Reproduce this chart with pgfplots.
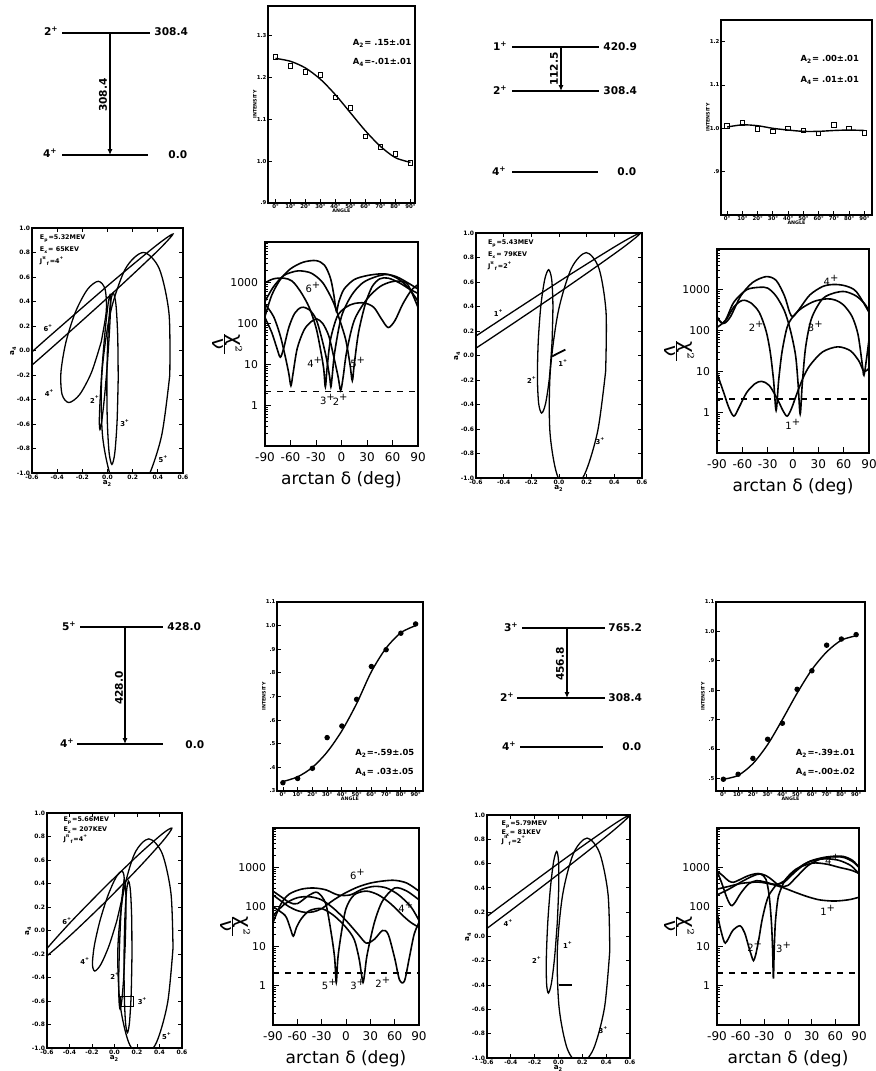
\documentclass[border=0pt]{standalone}
\usepackage{fontspec}
\setmainfont{DejaVu Sans}
\usepackage{pgfplots}
\pgfplotsset{compat=1.18}
\usetikzlibrary{arrows.meta}

\newcommand{\fs}[1]{\fontsize{#1}{#1}\selectfont}
\newcommand{\p}{\textsuperscript{+}}

\tikzset{
  lvl/.style={font=\fs{5.3}\bfseries, inner sep=0.5pt},
  elab/.style={font=\fs{3.4}\bfseries, inner sep=0.3pt},
  clab/.style={font=\fs{5}, inner sep=0.3pt},
  atxt/.style={anchor=west, font=\fs{4.2}\bfseries, inner sep=0.3pt},
  info/.style={anchor=north west, align=left, inner sep=0pt},
}

\pgfplotsset{
  base/.style={scale only axis, anchor=south west, axis line style={line width=0.7pt},
    /pgf/number format/assume math mode=true, tick style={line width=0.4pt, black}},
  intens/.style={base, xtick={0,10,...,90},
    xticklabels={0°,10°,20°,30°,40°,50°,60°,70°,80°,90°},
    tick pos=left, tick align=inside, major tick length=1.8pt,
    ticklabel style={font=\fs{2.7}\bfseries, inner sep=0.6pt},
    xlabel={ANGLE}, ylabel={INTENSITY}, label style={font=\fs{2.4}\bfseries},
    xlabel style={yshift=4pt}, ylabel style={yshift=-4pt}},
  ell/.style={base, xmin=-0.6, xmax=0.6, ymin=-1, ymax=1,
    xtick={-0.6,-0.4,-0.2,0,0.2,0.4,0.6},
    ytick={-1,-0.8,-0.6,-0.4,-0.2,0,0.2,0.4,0.6,0.8,1},
    tick align=inside, tick pos=both, major tick length=1.8pt,
    ticklabel style={font=\fs{3}\bfseries, inner sep=0.8pt},
    xticklabel style={/pgf/number format/fixed, /pgf/number format/fixed zerofill, /pgf/number format/precision=1},
    yticklabel style={/pgf/number format/fixed, /pgf/number format/fixed zerofill, /pgf/number format/precision=1},
    xlabel={a\textsubscript{2}}, ylabel={a\textsubscript{4}}, label style={font=\fs{3.6}\bfseries},
    xlabel style={yshift=4pt}, ylabel style={yshift=-4pt}},
  chisq/.style={base, xmin=-90, xmax=90, ymin=0.1, ymax=10000,
    xtick={-90,-60,-30,0,30,60,90}, ytick={1,10,100,1000}, yticklabels={1,10,100,1000},
    minor ytick={0.2,0.3,0.4,0.5,0.6,0.7,0.8,0.9,2,3,4,5,6,7,8,9,20,30,40,50,60,70,80,90,200,300,400,500,600,700,800,900,2000,3000,4000,5000,6000,7000,8000,9000},
    tick pos=left, tick align=inside, major tick length=3pt, minor tick length=1.6pt,
    yticklabel style={font=\fs{5.4}}, xticklabel style={font=\fs{6}},
    xlabel={arctan δ (deg)}, ylabel={$\frac{\mbox{χ}^2}{\mbox{ν}}$},
    label style={font=\fs{8.5}},
    every axis y label/.style={at={([xshift=-19pt]rel axis cs:0,0.5)}, rotate=-90, anchor=center},
    xlabel style={yshift=2pt}},
  cv/.style={smooth, line width=0.8pt},
  el/.style={smooth, line width=0.65pt},
  fit/.style={smooth, line width=0.7pt},
  pts/.style={only marks, mark=square, mark size=1.1pt, mark options={line width=0.5pt}},
}

\begin{document}
\begin{tikzpicture}
\useasboundingbox (0,0) rectangle (438pt,535.5pt);

% ---------- level schemes on a hidden canvas (pixel coordinates)
\begin{axis}[scale only axis, anchor=south west, at={(0,0)}, width=438pt, height=535.5pt,
  xmin=0, xmax=876, ymin=0, ymax=1071, y dir=reverse, hide axis, clip=false]
% top left
\addplot[line width=0.8pt] coordinates {(62,33)(150,33)};
\addplot[line width=0.8pt] coordinates {(62,155)(148,155)};
\addplot[line width=0.6pt, -{Latex[length=3pt,width=2.6pt]}] coordinates {(110,33)(110,155)};
\node[lvl, anchor=east] at (axis cs:60,31) {2\p};
\node[lvl, anchor=west] at (axis cs:153,32) {308.4};
\node[lvl, anchor=east] at (axis cs:59,153) {4\p};
\node[lvl, anchor=west] at (axis cs:167,155) {0.0};
\node[lvl, rotate=90] at (axis cs:103,95) {308.4};
% top middle
\addplot[line width=0.8pt] coordinates {(512,47)(599,47)};
\addplot[line width=0.8pt] coordinates {(512,91)(599,91)};
\addplot[line width=0.8pt] coordinates {(512,172)(598,172)};
\addplot[line width=0.6pt, -{Latex[length=3pt,width=2.6pt]}] coordinates {(561,47)(561,91)};
\node[lvl, anchor=east] at (axis cs:509,46) {1\p};
\node[lvl, anchor=west] at (axis cs:602,47) {420.9};
\node[lvl, anchor=east] at (axis cs:509,90) {2\p};
\node[lvl, anchor=west] at (axis cs:602,91) {308.4};
\node[lvl, anchor=east] at (axis cs:508,171) {4\p};
\node[lvl, anchor=west] at (axis cs:616,172) {0.0};
\node[lvl, rotate=90] at (axis cs:554,69) {112.5};
% bottom left
\addplot[line width=0.8pt] coordinates {(80,627)(163,627)};
\addplot[line width=0.8pt] coordinates {(77,744)(163,744)};
\addplot[line width=0.6pt, -{Latex[length=3pt,width=2.6pt]}] coordinates {(125,627)(125,744)};
\node[lvl, anchor=east] at (axis cs:78,626) {5\p};
\node[lvl, anchor=west] at (axis cs:166,627) {428.0};
\node[lvl, anchor=east] at (axis cs:76,743) {4\p};
\node[lvl, anchor=west] at (axis cs:184,745) {0.0};
\node[lvl, rotate=90] at (axis cs:119,688) {428.0};
% bottom middle
\addplot[line width=0.8pt] coordinates {(522,628)(605,628)};
\addplot[line width=0.8pt] coordinates {(517,698)(605,698)};
\addplot[line width=0.8pt] coordinates {(520,747)(603,747)};
\addplot[line width=0.6pt, -{Latex[length=3pt,width=2.6pt]}] coordinates {(567,628)(567,698)};
\node[lvl, anchor=east] at (axis cs:520,627) {3\p};
\node[lvl, anchor=west] at (axis cs:607,628) {765.2};
\node[lvl, anchor=east] at (axis cs:516,697) {2\p};
\node[lvl, anchor=west] at (axis cs:607,698) {308.4};
\node[lvl, anchor=east] at (axis cs:518,746) {4\p};
\node[lvl, anchor=west] at (axis cs:621,747) {0.0};
\node[lvl, rotate=90] at (axis cs:560,664) {456.8};
\end{axis}

% ---------- angular distributions
\begin{axis}[intens, at={(134pt,434pt)}, width=73.5pt, height=98.5pt,
  xmin=-5, xmax=93, ymin=0.9, ymax=1.37,
  ytick={0.9,1.0,1.1,1.2,1.3}, yticklabels={.9,1.0,1.1,1.2,1.3}]
\addplot[pts] coordinates {(0,1.248)(10,1.227)(20,1.2125)(30,1.205)(40,1.151)(50,1.127)(60,1.059)(70,1.034)(80,1.017)(90,0.995)};
\addplot[fit] coordinates {(0,1.245)(10,1.238)(20,1.222)(30,1.195)(40,1.158)(50,1.115)(60,1.072)(70,1.035)(80,1.008)(90,0.997)};
\node[atxt] at (rel axis cs:0.57,0.81) {A\textsubscript{2}= .15±.01};
\node[atxt] at (rel axis cs:0.57,0.715) {A\textsubscript{4}=-.01±.01};
\end{axis}

\begin{axis}[intens, at={(360.5pt,428pt)}, width=75.5pt, height=97.5pt,
  xmin=-4, xmax=95, ymin=0.8, ymax=1.25,
  ytick={0.9,1.0,1.1,1.2}, yticklabels={.9,1.0,1.1,1.2}]
\addplot[pts] coordinates {(0,1.005)(10,1.012)(20,0.998)(30,0.992)(40,1.0)(50,0.995)(60,0.988)(70,1.008)(80,1.0)(90,0.989)};
\addplot[fit] coordinates {(0,1.003)(10,1.008)(20,1.006)(30,1.0)(40,0.996)(50,0.993)(60,0.993)(70,0.995)(80,0.996)(90,0.995)};
\node[atxt] at (rel axis cs:0.52,0.80) {A\textsubscript{2}= .00±.01};
\node[atxt] at (rel axis cs:0.52,0.69) {A\textsubscript{4}= .01±.01};
\end{axis}

\begin{axis}[intens, at={(138.5pt,140pt)}, width=73pt, height=94.5pt,
  xmin=-4, xmax=95, ymin=0.3, ymax=1.1,
  ytick={0.3,0.4,0.5,0.6,0.7,0.8,0.9,1.0,1.1}, yticklabels={.3,.4,.5,.6,.7,.8,.9,1.0,1.1}]
\addplot[pts, mark=*] coordinates {(0,0.335)(10,0.353)(20,0.396)(30,0.526)(40,0.575)(50,0.688)(60,0.827)(70,0.898)(80,0.968)(90,1.007)};
\addplot[fit] coordinates {(0,0.34)(10,0.36)(20,0.40)(30,0.465)(40,0.555)(50,0.67)(60,0.805)(70,0.905)(80,0.97)(90,1.0)};
\node[atxt] at (rel axis cs:0.53,0.20) {A\textsubscript{2}=-.59±.05};
\node[atxt] at (rel axis cs:0.53,0.10) {A\textsubscript{4}= .03±.05};
\end{axis}

\begin{axis}[intens, at={(358pt,140pt)}, width=74.5pt, height=94.5pt,
  xmin=-5, xmax=96, ymin=0.457, ymax=1.1,
  ytick={0.5,0.6,0.7,0.8,0.9,1.0,1.1}, yticklabels={.5,.6,.7,.8,.9,1.0,1.1}]
\addplot[pts, mark=*] coordinates {(0,0.497)(10,0.514)(20,0.568)(30,0.633)(40,0.6875)(50,0.803)(60,0.866)(70,0.953)(80,0.974)(90,0.989)};
\addplot[fit] coordinates {(0,0.497)(10,0.51)(20,0.55)(30,0.615)(40,0.70)(50,0.79)(60,0.87)(70,0.93)(80,0.97)(90,0.985)};
\node[atxt] at (rel axis cs:0.53,0.20) {A\textsubscript{2}=-.39±.01};
\node[atxt] at (rel axis cs:0.53,0.10) {A\textsubscript{4}=-.00±.02};
\end{axis}

% ---------- a2-a4 ellipses
\begin{axis}[ell, at={(16pt,299pt)}, width=75.5pt, height=122.5pt]
\addplot[el] coordinates {(-0.48,0.099)(-0.98,-0.361)(-1.346,-0.713)(-1.48,-0.862)(-1.346,-0.768)(-0.98,-0.457)(-0.48,-0.011)(0.02,0.449)(0.386,0.801)(0.52,0.95)(0.386,0.856)(0.02,0.545)(-0.48,0.099)};
\addplot[el] coordinates {(-0.05,0.07)(-0.127,-0.178)(-0.221,-0.359)(-0.307,-0.425)(-0.361,-0.359)(-0.370,-0.178)(-0.33,0.07)(-0.253,0.318)(-0.159,0.499)(-0.073,0.565)(-0.019,0.499)(-0.010,0.318)(-0.05,0.07)};
\addplot[el] coordinates {(0.0,-0.095)(-0.023,-0.37)(-0.045,-0.571)(-0.06,-0.645)(-0.065,-0.571)(-0.057,-0.37)(-0.04,-0.095)(-0.017,0.18)(0.005,0.381)(0.02,0.455)(0.025,0.381)(0.017,0.18)(0.0,-0.095)};
\addplot[el] coordinates {(0.085,-0.23)(0.076,-0.58)(0.058,-0.836)(0.035,-0.93)(0.013,-0.836)(-0.0015,-0.58)(-0.005,-0.23)(0.0035,0.12)(0.022,0.376)(0.045,0.47)(0.067,0.376)(0.081,0.12)(0.085,-0.23)};
\addplot[el] coordinates {(0.495,-0.2)(0.429,-0.7)(0.308,-1.066)(0.165,-1.2)(0.038,-1.066)(-0.039,-0.7)(-0.045,-0.2)(0.021,0.3)(0.142,0.666)(0.285,0.8)(0.412,0.666)(0.489,0.3)(0.495,-0.2)};
\node[elab] at (axis cs:-0.47,0.18) {6\p};
\node[elab] at (axis cs:-0.46,-0.35) {4\p};
\node[elab] at (axis cs:-0.1,-0.40) {2\p};
\node[elab] at (axis cs:0.14,-0.59) {3\p};
\node[elab] at (axis cs:0.445,-0.89) {5\p};
\node[info, font=\fontsize{3.2}{6}\selectfont\bfseries] at (rel axis cs:0.05,0.975)
  {E\textsubscript{p}=5.32MEV\\E\textsubscript{x}= 65KEV\\J\textsuperscript{π}\textsubscript{f}=4\p};
\end{axis}

\begin{axis}[ell, at={(238pt,296.5pt)}, width=83pt, height=122.5pt]
\addplot[el] coordinates {(-0.51,0.227)(-1.06,-0.191)(-1.463,-0.511)(-1.61,-0.646)(-1.463,-0.561)(-1.06,-0.278)(-0.51,0.127)(0.04,0.545)(0.443,0.865)(0.59,1.0)(0.443,0.915)(0.04,0.632)(-0.51,0.227)};
\addplot[el] coordinates {(-0.05,0.115)(-0.069,-0.178)(-0.097,-0.392)(-0.125,-0.47)(-0.147,-0.392)(-0.156,-0.178)(-0.15,0.115)(-0.131,0.408)(-0.103,0.622)(-0.075,0.70)(-0.053,0.622)(-0.044,0.408)(-0.05,0.115)};
\addplot[el] coordinates {(0.337,-0.13)(0.28,-0.615)(0.185,-0.97)(0.077,-1.1)(-0.015,-0.97)(-0.066,-0.615)(-0.063,-0.13)(-0.006,0.355)(0.089,0.71)(0.197,0.84)(0.289,0.71)(0.34,0.355)(0.337,-0.13)};
\addplot[line width=0.9pt] coordinates {(-0.05,-0.007)(0.046,0.048)};
\node[elab] at (axis cs:-0.436,0.35) {1\p};
\node[elab] at (axis cs:-0.195,-0.2) {2\p};
\node[elab] at (axis cs:0.03,-0.06) {1\p};
\node[elab] at (axis cs:0.3,-0.70) {3\p};
\node[info, font=\fontsize{3.2}{6}\selectfont\bfseries] at (rel axis cs:0.07,0.975)
  {E\textsubscript{p}=5.43MEV\\E\textsubscript{x}= 79KEV\\J\textsuperscript{π}\textsubscript{f}=2\p};
\end{axis}

\begin{axis}[ell, at={(23.5pt,11.5pt)}, width=67.5pt, height=117.5pt]
\addplot[el] coordinates {(-0.08,0.375)(-0.375,0.086)(-0.591,-0.143)(-0.67,-0.25)(-0.591,-0.208)(-0.375,-0.026)(-0.08,0.245)(0.215,0.534)(0.431,0.763)(0.51,0.87)(0.431,0.827)(0.215,0.646)(-0.08,0.375)};
\addplot[el] coordinates {(0.02,0.08)(-0.05,-0.133)(-0.121,-0.288)(-0.175,-0.345)(-0.196,-0.288)(-0.18,-0.133)(-0.13,0.08)(-0.06,0.293)(0.011,0.448)(0.065,0.505)(0.086,0.448)(0.07,0.293)(0.02,0.08)};
\addplot[el] coordinates {(0.095,-0.12)(0.082,-0.395)(0.065,-0.596)(0.05,-0.67)(0.04,-0.596)(0.038,-0.395)(0.045,-0.12)(0.058,0.155)(0.075,0.356)(0.09,0.43)(0.1,0.356)(0.102,0.155)(0.095,-0.12)};
\addplot[el] coordinates {(0.155,-0.225)(0.148,-0.548)(0.133,-0.784)(0.115,-0.87)(0.098,-0.784)(0.087,-0.548)(0.085,-0.225)(0.092,0.0975)(0.107,0.334)(0.125,0.42)(0.142,0.334)(0.153,0.0975)(0.155,-0.225)};
\addplot[line width=0.6pt] coordinates {(0.052,-0.56)(0.17,-0.56)(0.17,-0.645)(0.052,-0.645)(0.052,-0.56)};
\addplot[el] coordinates {(0.52,-0.15)(0.472,-0.615)(0.372,-0.955)(0.245,-1.08)(0.127,-0.955)(0.048,-0.615)(0.03,-0.15)(0.078,0.315)(0.179,0.655)(0.305,0.78)(0.424,0.655)(0.502,0.315)(0.52,-0.15)};
\node[elab] at (axis cs:-0.42,0.078) {6\p};
\node[elab] at (axis cs:-0.26,-0.26) {4\p};
\node[elab] at (axis cs:0.007,-0.39) {2\p};
\node[elab] at (axis cs:0.25,-0.60) {3\p};
\node[elab] at (axis cs:0.467,-0.90) {5\p};
\node[info, font=\fontsize{3.2}{5}\selectfont\bfseries] at (rel axis cs:0.12,0.985)
  {E\textsubscript{p}=5.66MEV\\E\textsubscript{x}= 207KEV\\J\textsuperscript{π}\textsubscript{f}=4\p};
\end{axis}

\begin{axis}[ell, at={(243.5pt,6.5pt)}, width=71.5pt, height=121.5pt]
\addplot[el] coordinates {(-0.5,0.24)(-1.05,-0.172)(-1.453,-0.487)(-1.6,-0.62)(-1.453,-0.537)(-1.05,-0.258)(-0.5,0.14)(0.05,0.552)(0.453,0.866)(0.6,1.0)(0.453,0.916)(0.05,0.638)(-0.5,0.24)};
\addplot[el] coordinates {(-0.01,0.117)(-0.033,-0.175)(-0.06,-0.388)(-0.085,-0.466)(-0.1,-0.388)(-0.102,-0.175)(-0.09,0.117)(-0.067,0.409)(-0.04,0.622)(-0.015,0.70)(0.0,0.622)(0.002,0.409)(-0.01,0.117)};
\addplot[el] coordinates {(0.43,-0.12)(0.386,-0.585)(0.294,-0.925)(0.18,-1.05)(0.074,-0.925)(0.005,-0.585)(-0.01,-0.12)(0.035,0.345)(0.126,0.685)(0.24,0.81)(0.346,0.685)(0.416,0.345)(0.43,-0.12)};
\addplot[line width=0.9pt] coordinates {(0.0,-0.4)(0.11,-0.4)};
\node[elab] at (axis cs:-0.42,0.11) {4\p};
\node[elab] at (axis cs:-0.18,-0.19) {2\p};
\node[elab] at (axis cs:0.08,-0.07) {1\p};
\node[elab] at (axis cs:0.377,-0.77) {3\p};
\node[info, font=\fontsize{3.2}{4.5}\selectfont\bfseries] at (rel axis cs:0.1,0.98)
  {E\textsubscript{p}=5.79MEV\\E\textsubscript{x}= 81KEV\\J\textsuperscript{π}\textsubscript{f}=2\p};
\end{axis}

% ---------- chi-square versus arctan delta
\begin{axis}[ymode=log, chisq, at={(132.5pt,312.5pt)}, width=76.5pt, height=102pt]
\addplot[cv] coordinates {(-90,150)(-82,500)(-72,1200)(-60,2200)(-45,3200)(-30,3500)(-20,2700)(-13,1300)(-9,500)(-6,200)(-3,350)(3,700)(15,1200)(30,1500)(45,1650)(55,1600)(68,1200)(80,700)(90,350)};
\addplot[cv] coordinates {(-90,1000)(-80,1250)(-68,1300)(-58,1100)(-48,600)(-38,250)(-30,80)(-25,25)(-21,8)(-19,2.8)(-17,8)(-13,40)(-5,150)(5,250)(15,310)(27,320)(38,250)(47,130)(55,80)(63,120)(72,300)(82,650)(90,900)};
\addplot[cv] coordinates {(-90,350)(-80,800)(-68,1500)(-55,1900)(-47,1950)(-35,1700)(-22,1000)(-10,350)(-2,120)(5,40)(10,10)(12.7,4)(15,10)(20,60)(28,300)(36,800)(45,1250)(55,1300)(68,1000)(80,700)(90,550)};
\addplot[cv] coordinates {(-90,140)(-82,60)(-76,25)(-72,15)(-68,25)(-62,80)(-55,180)(-47,250)(-38,220)(-30,130)(-24,50)(-18,15)(-14,5)(-12.5,2.8)(-11,5)(-8,20)(0,150)(12,500)(25,1000)(40,1400)(53,1600)(65,1400)(78,1000)(90,700)};
\addplot[cv] coordinates {(-90,300)(-80,150)(-72,50)(-66,15)(-62,6)(-59.5,3)(-57,6)(-52,25)(-44,70)(-36,110)(-29,130)(-22,100)(-15,50)(-9,15)(-4,5)(-1,2.3)(2,5)(6,20)(15,120)(30,400)(45,800)(58,1050)(68,1100)(78,900)(90,250)};
\addplot[dashed, line width=0.6pt] coordinates {(-90,2.2)(90,2.2)};
\node[clab] at (axis cs:-33,760) {6\p};
\node[clab] at (axis cs:-31,11) {4\p};
\node[clab] at (axis cs:19.6,11) {5\p};
\node[clab] at (axis cs:-16,1.35) {3\p};
\node[clab] at (axis cs:-1,1.35) {2\p};
\end{axis}

\begin{axis}[ymode=log, chisq, at={(358.5pt,309pt)}, width=76pt, height=102pt]
\addplot[cv] coordinates {(-90,9)(-82,3)(-76,1.3)(-70,0.8)(-64,1.3)(-55,3)(-45,5)(-37,5.7)(-28,4.5)(-18,2)(-12,1.1)(-7,0.8)(-2,1.2)(5,3)(12,7)(20,14)(35,30)(53,40)(68,32)(78,18)(84,10)(90,12)};
\addplot[cv] coordinates {(-90,220)(-84,150)(-78,200)(-70,380)(-60,550)(-50,480)(-40,280)(-32,100)(-27,30)(-23,6)(-20,1.1)(-17,6)(-13,30)(-7,120)(0,220)(10,350)(25,520)(40,600)(50,560)(60,420)(70,220)(77,80)(82,15)(84,8)(87,20)(90,60)};
\addplot[cv] coordinates {(-90,120)(-80,180)(-70,500)(-55,1000)(-40,1150)(-30,1100)(-20,700)(-10,300)(-3,100)(3,25)(6,5)(8.5,0.9)(11,5)(15,40)(22,200)(35,600)(50,850)(62,900)(75,700)(85,450)(90,300)};
\addplot[cv] coordinates {(-90,200)(-82,150)(-74,220)(-62,700)(-48,1500)(-32,2100)(-20,1700)(-10,700)(-4,280)(0,220)(8,350)(20,750)(35,1200)(48,1350)(62,1250)(75,900)(90,280)};
\addplot[dashed, line width=0.6pt] coordinates {(-90,2.1)(90,2.1)};
\node[clab] at (axis cs:45.6,1700) {4\p};
\node[clab] at (axis cs:-43,130) {2\p};
\node[clab] at (axis cs:27,125) {3\p};
\node[clab] at (axis cs:0.4,0.5) {1\p};
\end{axis}

\begin{axis}[ymode=log, chisq, at={(136.5pt,23pt)}, width=73pt, height=98.5pt]
\addplot[cv] coordinates {(-90,200)(-80,140)(-70,100)(-60,80)(-50,72)(-40,75)(-30,90)(-15,150)(0,230)(15,320)(30,400)(45,450)(60,470)(75,400)(90,250)};
\addplot[cv] coordinates {(-90,250)(-80,180)(-70,130)(-60,120)(-45,200)(-35,230)(-25,120)(-18,20)(-14,5)(-12,1.2)(-10,5)(-6,20)(0,90)(10,200)(25,250)(40,200)(55,120)(70,60)(80,40)(90,30)};
\addplot[cv] coordinates {(-90,100)(-75,60)(-69,30)(-65,18)(-61,30)(-55,50)(-45,80)(-30,90)(-15,60)(0,30)(10,15)(16,5)(19,2)(21,1.2)(23,2)(26,6)(35,40)(45,140)(60,300)(75,250)(90,150)};
\addplot[cv] coordinates {(-90,60)(-75,120)(-60,170)(-45,180)(-30,150)(-15,90)(0,45)(15,20)(25,12)(35,15)(45,25)(52,20)(60,5)(66,1.4)(72,1.3)(78,5)(84,20)(90,40)};
\addplot[cv] coordinates {(-90,40)(-80,120)(-70,210)(-55,280)(-40,300)(-25,270)(-10,200)(5,200)(20,280)(35,330)(50,300)(65,200)(80,100)(90,45)};
\addplot[dashed, line width=0.6pt] coordinates {(-90,2.1)(90,2.1)};
\node[clab] at (axis cs:14.8,680) {6\p};
\node[clab] at (axis cs:74.4,96) {4\p};
\node[clab] at (axis cs:-20,1.07) {5\p};
\node[clab] at (axis cs:15,1.07) {3\p};
\node[clab] at (axis cs:46,1.2) {2\p};
\end{axis}

\begin{axis}[ymode=log, chisq, at={(358.5pt,23pt)}, width=71pt, height=98.5pt]
\addplot[cv] coordinates {(-90,280)(-75,330)(-60,390)(-45,420)(-35,420)(-20,370)(-5,300)(10,230)(25,180)(40,150)(57,140)(70,145)(80,155)(90,175)};
\addplot[cv] coordinates {(-90,820)(-84,400)(-78,180)(-74,120)(-71,107)(-67,130)(-60,220)(-50,380)(-40,460)(-30,430)(-20,380)(-14,370)(-5,450)(5,700)(20,1200)(35,1550)(50,1650)(65,1500)(80,1100)(90,680)};
\addplot[cv] coordinates {(-90,820)(-82,600)(-75,450)(-69,420)(-62,480)(-50,620)(-38,700)(-28,620)(-20,480)(-14,380)(-8,330)(0,350)(10,550)(25,1100)(40,1600)(55,1850)(70,1800)(82,1400)(90,1000)};
\addplot[cv] coordinates {(-90,72)(-86,30)(-82,15)(-79.5,12)(-76,15)(-70,25)(-61,33)(-55,22)(-50,10)(-46,5.5)(-43.7,4.3)(-41,6)(-37,15)(-33,45)(-28,120)(-24,200)(-18,300)(-14,370)(-5,420)(10,800)(25,1350)(40,1700)(55,1900)(70,1900)(82,1500)(90,1000)};
\addplot[cv] coordinates {(-90,200)(-75,280)(-60,420)(-45,600)(-35,680)(-28,500)(-24,200)(-21,40)(-19.5,8)(-18.5,1.5)(-17.5,8)(-16,40)(-13,150)(-10,250)(-3,500)(10,900)(25,1200)(35,1300)(50,1200)(65,1000)(80,850)(90,700)};
\addplot[dashed, line width=0.6pt] coordinates {(-90,2.1)(90,2.1)};
\node[clab] at (axis cs:57,1630) {4\p};
\node[clab] at (axis cs:51,80) {1\p};
\node[clab] at (axis cs:-41.6,10) {2\p};
\node[clab] at (axis cs:-5,9.4) {3\p};
\end{axis}
\end{tikzpicture}
\end{document}
